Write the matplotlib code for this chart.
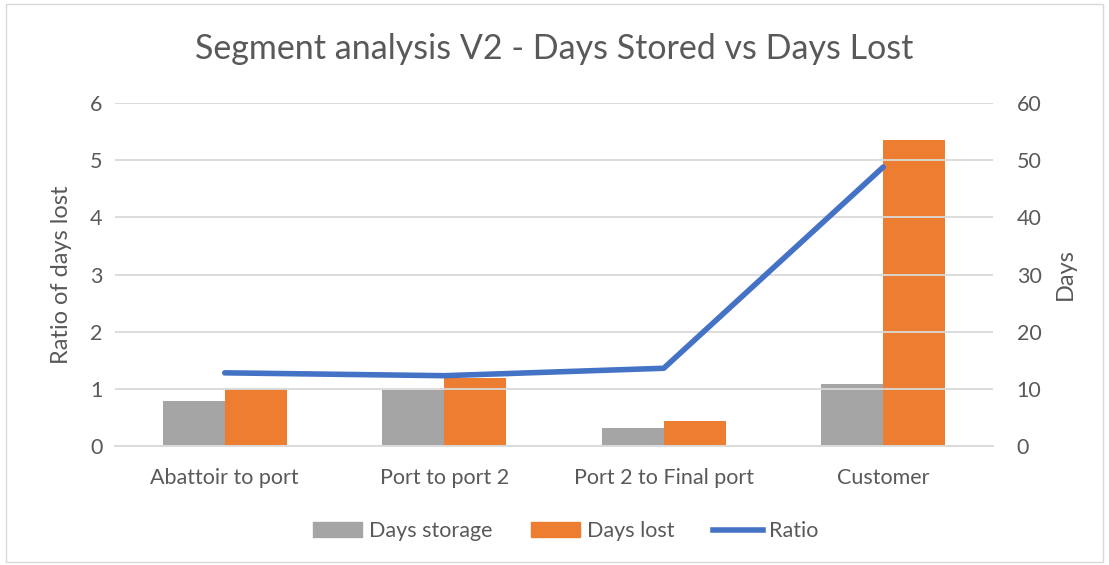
import matplotlib
matplotlib.use("Agg")
import numpy as np
import matplotlib.pyplot as plt
import matplotlib.patches as mpatches
from matplotlib.lines import Line2D

plt.rcParams['font.family'] = ['Lato', 'DejaVu Sans']

categories = ['Abattoir to port', 'Port to port 2', 'Port 2 to Final port', 'Customer']
days_storage = [7.8, 9.8, 3.1, 10.9]
days_lost = [9.9, 11.9, 4.3, 53.6]
ratio = [1.28, 1.23, 1.36, 4.88]

grey = '#a5a5a5'
orange = '#ed7d31'
blue = '#4472c4'
text_col = '#595959'
grid_col = '#d9d9d9'

fig = plt.figure(figsize=(11.09, 5.65), dpi=100)
ax1 = fig.add_axes([0.1037, 0.2106, 0.7917, 0.6071])
ax2 = ax1.twinx()

x = np.arange(len(categories))
w = 0.283

# bars on the days axis, drawn behind the ratio line
ax2.bar(x - w / 2, days_storage, w, color=grey, zorder=2)
ax2.bar(x + w / 2, days_lost, w, color=orange, zorder=2)
ax2.set_ylim(0, 60)
ax2.set_yticks(range(0, 61, 10))

ax1.set_ylim(0, 6)
ax1.set_yticks(range(0, 7))
ax1.set_xlim(-0.5, 3.5)
ax1.set_xticks(x)
ax1.set_xticklabels(categories)
ax1.yaxis.grid(True, color=grid_col, linewidth=1.3)
ax1.set_axisbelow(True)

# ratio line must sit above the bars
ax1.set_zorder(ax2.get_zorder() + 1)
ax1.patch.set_visible(False)
ax1.plot(x, ratio, color=blue, linewidth=4, solid_capstyle='round', zorder=5)

for ax in (ax1, ax2):
    for s in ax.spines.values():
        s.set_visible(False)
    ax.tick_params(length=0, labelsize=15.5, colors=text_col)
ax1.tick_params(axis='y', pad=9)
ax2.tick_params(axis='y', pad=17)
ax1.tick_params(axis='x', pad=16)
ax1.spines['bottom'].set_visible(True)
ax1.spines['bottom'].set_color(grid_col)
ax1.spines['bottom'].set_linewidth(1.3)

ax1.set_ylabel('Ratio of days lost', fontsize=17, color=text_col, labelpad=13)
ax2.set_ylabel('Days', fontsize=17, color=text_col, labelpad=10)

fig.text(0.5, 0.913, 'Segment analysis V2 - Days Stored vs Days Lost',
         ha='center', va='center', fontsize=24.5, color=text_col)

handles = [mpatches.Patch(color=grey, label='Days storage'),
           mpatches.Patch(color=orange, label='Days lost'),
           Line2D([], [], color=blue, linewidth=4, label='Ratio')]
fig.legend(handles=handles, loc='center', bbox_to_anchor=(0.51, 0.06), ncol=3,
           frameon=False, fontsize=15.5, labelcolor=text_col,
           handlelength=2.3, handletextpad=0.3, columnspacing=1.8)

fig.patches.append(mpatches.Rectangle((0.005, 0.006), 0.99, 0.987, transform=fig.transFigure,
                                      fill=False, edgecolor=grid_col, linewidth=1))

fig.savefig('out.png', dpi=100)
